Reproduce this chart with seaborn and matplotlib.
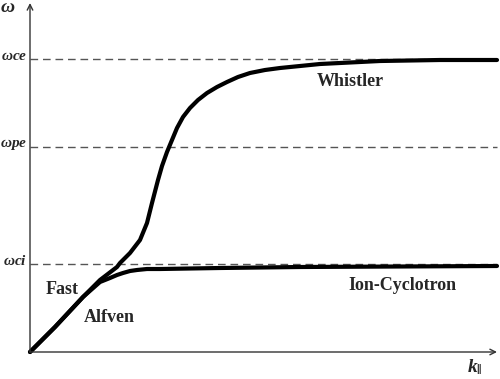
import matplotlib
matplotlib.use('Agg')
import matplotlib.pyplot as plt
import seaborn as sns
import pandas as pd

# dispersion branches (k along x, omega along y)
k_whistler = [0, 25, 53, 70, 87, 90, 100, 110, 117, 122, 128, 132, 137, 147, 153, 160, 168, 177, 187, 197,
              208, 220, 235, 250, 290, 350, 410, 467]
w_whistler = [0, 25, 55, 72, 85, 89, 99, 112, 129, 149, 172, 186, 200, 224, 235, 244, 252, 259, 265, 270,
              275, 279, 282, 284, 288, 291, 292, 292]

k_ion = [0, 25, 53, 70, 80, 87, 93, 100, 107, 117, 130, 190, 270, 467]
w_ion = [0, 25, 55, 70, 74, 77, 79, 81, 82, 83, 83, 84, 85, 86]

levels = [293, 205, 88]
level_names = [r'$\omega\mathit{ce}$', r'$\omega\mathit{pe}$', r'$\omega\mathit{ci}$']

sns.set_style('white')
plt.rcParams['font.family'] = ['Liberation Serif', 'DejaVu Serif']
plt.rcParams['mathtext.fontset'] = 'custom'
plt.rcParams['mathtext.rm'] = 'Liberation Serif:bold'
plt.rcParams['mathtext.it'] = 'Liberation Serif:italic:bold'
plt.rcParams['mathtext.bf'] = 'Liberation Serif:bold'

fig = plt.figure(figsize=(5, 3.79), dpi=100)
ax = fig.add_axes([0, 0, 1, 1])
ax.set_xlim(-30, 470)
ax.set_ylim(-27, 352)
ax.axis('off')

# dashed reference frequencies
ax.hlines(levels, 0, 467, colors='#555555', linestyles=(0, (5.5, 3.5)), linewidth=1)
for lv, name in zip(levels, level_names):
    ax.text(-3, lv + 3, name, ha='right', va='center', fontsize=11)

df_w = pd.DataFrame({'k': k_whistler, 'w': w_whistler})
df_i = pd.DataFrame({'k': k_ion, 'w': w_ion})
sns.lineplot(data=df_w, x='k', y='w', sort=False, color='black', linewidth=3, ax=ax)
sns.lineplot(data=df_i, x='k', y='w', sort=False, color='black', linewidth=3, ax=ax)
for ln in ax.lines:
    ln.set_solid_joinstyle('round')
    ln.set_solid_capstyle('round')

# axes with arrows
arrow = dict(arrowstyle='->', color='#333333', lw=1, shrinkA=0, shrinkB=0)
ax.annotate('', xy=(467, 0), xytext=(0, 0), arrowprops=arrow)
ax.annotate('', xy=(0, 349), xytext=(0, 0), arrowprops=arrow)

ax.text(-22, 345, r'$\omega$', ha='center', va='center', fontsize=14)
ax.text(445, -15, r'$k_{\Vert}$', ha='center', va='center', fontsize=14)

ax.text(320, 270, 'Whistler', ha='center', va='center', fontsize=13, fontweight='bold')
ax.text(372, 67, 'Ion-Cyclotron', ha='center', va='center', fontsize=13, fontweight='bold')
ax.text(32, 62, 'Fast', ha='center', va='center', fontsize=13, fontweight='bold')
ax.text(79, 35, 'Alfven', ha='center', va='center', fontsize=13, fontweight='bold')

fig.savefig('out.png', dpi=100)
